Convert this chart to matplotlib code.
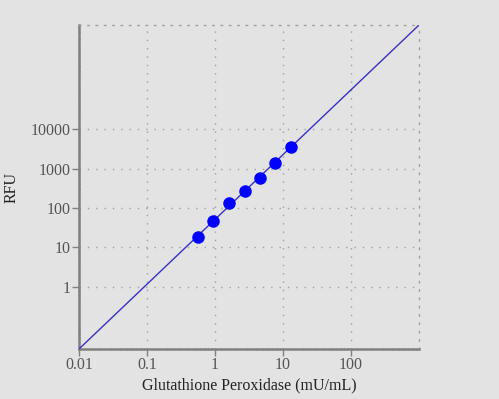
import numpy as np
import matplotlib
matplotlib.use('Agg')
import matplotlib.pyplot as plt
from matplotlib.ticker import FixedLocator, LogLocator, NullFormatter

# Standard curve points
activity = [0.57, 0.95, 1.62, 2.72, 4.58, 7.62, 12.9]
rfu = [18.6, 45.4, 137, 270, 586, 1377, 3490]

x_ticks = [0.01, 0.1, 1, 10, 100]
x_tick_labels = ['0.01', '0.1', '1', '10', '100']
y_ticks = [1, 10, 100, 1000, 10000]
y_tick_labels = ['1', '10', '100', '1000', '10000']
x_range = [0.01, 1000]

# log-log linear fit, drawn across the whole x range
slope, intercept = np.polyfit(np.log10(activity), np.log10(rfu), 1)
fit_x = np.array(x_range)
fit_y = 10 ** (intercept + slope * np.log10(fit_x))

plt.rcParams['font.family'] = ['Liberation Serif', 'DejaVu Serif']
bg = '#e3e3e3'

fig = plt.figure(figsize=(4.99, 3.99), dpi=100, facecolor=bg)
ax = fig.add_axes([0.1583, 0.1253, 0.6814, 0.812], facecolor=bg)

ax.plot(fit_x, fit_y, color='#3a2fc4', lw=1, zorder=3)
ax.plot(activity, rfu, 'o', color='#0000ff', markersize=8, zorder=4)

ax.set_xscale('log')
ax.set_yscale('log')
ax.set_xlim(fit_x[0], fit_x[1])
ax.set_ylim(fit_y[0], fit_y[1])

ax.xaxis.set_major_locator(FixedLocator(x_ticks))
ax.set_xticklabels(x_tick_labels)
ax.yaxis.set_major_locator(FixedLocator(y_ticks))
ax.set_yticklabels(y_tick_labels)
ax.xaxis.set_minor_locator(LogLocator(base=10, subs=np.arange(2, 10), numticks=20))
ax.yaxis.set_minor_locator(LogLocator(base=10, subs=np.arange(2, 10), numticks=20))
ax.xaxis.set_minor_formatter(NullFormatter())
ax.yaxis.set_minor_formatter(NullFormatter())

ax.tick_params(which='major', length=5, width=1, color='#808080',
               labelcolor='#555555', labelsize=11.5, pad=1)
ax.tick_params(which='minor', length=2, width=0.8, color='#909090', direction='inout')

ax.grid(True, which='major', axis='both', color='#a0a0a0', lw=1, linestyle=(0, (1, 5)))
# top and right edges drawn as dotted lines like the grid
for side in ['left', 'bottom']:
    ax.spines[side].set_color('#808080')
    ax.spines[side].set_linewidth(1.8)
for side in ['top', 'right']:
    ax.spines[side].set_color('#a0a0a0')
    ax.spines[side].set_linewidth(1)
    ax.spines[side].set_linestyle((0, (1, 5)))

ax.set_xlabel('Glutathione Peroxidase (mU/mL)', fontsize=11.5, color='#222222', labelpad=3)
ax.set_ylabel('RFU', fontsize=11.5, color='#222222', labelpad=8)

fig.savefig('out.png', dpi=100, facecolor=bg)
